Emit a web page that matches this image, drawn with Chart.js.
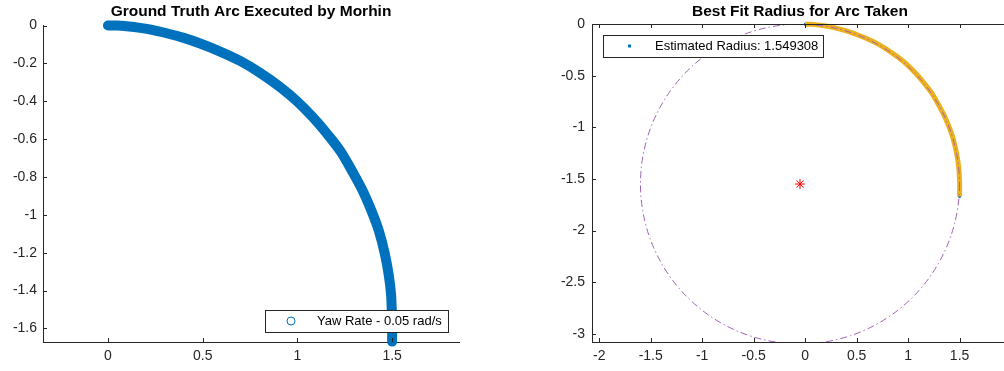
<!DOCTYPE html>
<html><head><meta charset="utf-8">
<script src="https://cdn.jsdelivr.net/npm/chart.js@4/dist/chart.umd.min.js"></script>
<style>
html,body{margin:0;padding:0;background:#fff;overflow:hidden;width:1004px;height:371px;}
canvas{position:absolute;top:0;}
#c1{left:0;} #c2{left:480px;}
</style></head>
<body>
<canvas id="c1" width="480" height="371"></canvas>
<canvas id="c2" width="540" height="371"></canvas>
<script>
// ---- data ----
const arcX = [0.00,0.05,0.10,0.17,0.22,0.30,0.40,0.49,0.58,0.70,0.80,0.91,1.00,1.08,1.16,1.23,1.29,1.35,1.39,1.43,1.46,1.48,1.495,1.50,1.50,1.50];
const arcY = [0.000,0.000,-0.004,-0.012,-0.020,-0.038,-0.065,-0.096,-0.132,-0.188,-0.248,-0.326,-0.402,-0.483,-0.576,-0.668,-0.771,-0.884,-0.977,-1.085,-1.200,-1.305,-1.430,-1.530,-1.600,-1.670];
const fitCenter = [-0.05, -1.549];
const fitRadius = 1.549308;
const leftXTicks = [0, 0.5, 1, 1.5];
const leftYTicks = [0, -0.2, -0.4, -0.6, -0.8, -1, -1.2, -1.4, -1.6];
const rightXTicks = [-2, -1.5, -1, -0.5, 0, 0.5, 1, 1.5];
const rightYTicks = [0, -0.5, -1, -1.5, -2, -2.5, -3];
const leftTitle = 'Ground Truth Arc Executed by Morhin';
const rightTitle = 'Best Fit Radius for Arc Taken';
const leftLegend = 'Yaw Rate - 0.05 rad/s';
const rightLegend = 'Estimated Radius: ' + fitRadius.toFixed(6);

const FONT = '"Liberation Sans", Arial, Helvetica, sans-serif';
const AX = '#262626';
const pts = arcX.map((x,i)=>({x:x, y:arcY[i]}));

function axisScale(min,max,ticks,fit,pad){
  return {
    type:'linear', min:min, max:max,
    afterBuildTicks:(s)=>{ s.ticks = ticks.map(v=>({value:v})); },
    afterFit:fit,
    grid:{display:false, drawTicks:false},
    border:{display:true, color:AX, width:1},
    ticks:{color:AX, font:{family:FONT, size:14}, padding:pad, autoSkip:false, maxRotation:0,
      callback:(v)=>String(Math.round(v*10)/10)}
  };
}

function decorPlugin(opts){
  return {
    id:'decor'+opts.id,
    afterDraw(chart){
      const ctx = chart.ctx, a = chart.chartArea, sx = chart.scales.x, sy = chart.scales.y;
      ctx.save();
      ctx.strokeStyle = AX; ctx.lineWidth = 1;
      if (opts.box){
        ctx.beginPath();
        ctx.moveTo(a.left, a.top+0.5); ctx.lineTo(a.right, a.top+0.5);
        ctx.moveTo(a.right-0.5, a.top); ctx.lineTo(a.right-0.5, a.bottom);
        ctx.stroke();
      }
      const L = 4;
      ctx.beginPath();
      sx.ticks.forEach(t=>{
        const px = Math.round(sx.getPixelForValue(t.value))+0.5;
        ctx.moveTo(px, a.bottom); ctx.lineTo(px, a.bottom-L);
        if (opts.box){ ctx.moveTo(px, a.top); ctx.lineTo(px, a.top+L); }
      });
      sy.ticks.forEach(t=>{
        const py = Math.round(sy.getPixelForValue(t.value))+0.5;
        ctx.moveTo(a.left, py); ctx.lineTo(a.left+L, py);
        if (opts.box){ ctx.moveTo(a.right, py); ctx.lineTo(a.right-L, py); }
      });
      ctx.stroke();
      ctx.fillStyle = '#000';
      ctx.font = 'bold 15.5px ' + FONT;
      ctx.textAlign = 'center'; ctx.textBaseline = 'middle';
      ctx.fillText(opts.title, (a.left+a.right)/2, 12);
      const g = opts.legend;
      ctx.fillStyle = '#fff';
      ctx.fillRect(g.x, g.y, g.w, g.h);
      ctx.strokeStyle = AX; ctx.lineWidth = 1;
      ctx.strokeRect(g.x+0.5, g.y+0.5, g.w, g.h);
      const my = g.y + g.h/2;
      if (g.marker === 'circle'){
        ctx.strokeStyle = '#0072BD'; ctx.lineWidth = 1;
        ctx.beginPath(); ctx.arc(g.x+26, my, 4, 0, Math.PI*2); ctx.stroke();
      } else {
        ctx.fillStyle = '#0072BD';
        ctx.fillRect(g.x+25, my-1.5, 3, 3);
      }
      ctx.fillStyle = '#000';
      ctx.font = '13px ' + FONT;
      ctx.textAlign = 'left';
      ctx.fillText(g.text, g.x + g.tx, my+0.5);
      ctx.restore();
    }
  };
}

const circlePlugin = {
  id:'fitCircle',
  afterDatasetsDraw(chart){
    const ctx = chart.ctx, a = chart.chartArea, sx = chart.scales.x, sy = chart.scales.y;
    const cx = sx.getPixelForValue(fitCenter[0]), cy = sy.getPixelForValue(fitCenter[1]);
    const rx = Math.abs(sx.getPixelForValue(fitCenter[0]+fitRadius) - cx);
    const ry = Math.abs(sy.getPixelForValue(fitCenter[1]+fitRadius) - cy);
    ctx.save();
    ctx.beginPath(); ctx.rect(a.left, a.top, a.right-a.left, a.bottom-a.top); ctx.clip();
    ctx.strokeStyle = '#9E63B5'; ctx.lineWidth = 1;
    ctx.setLineDash([7,3,1.5,3]);
    ctx.beginPath(); ctx.ellipse(cx, cy, rx, ry, 0, 0, Math.PI*2); ctx.stroke();
    ctx.restore();
  }
};

// ---- left chart ----
new Chart(document.getElementById('c1'), {
  type:'scatter',
  data:{datasets:[{
    data:pts, showLine:true, borderColor:'#0072BD', borderWidth:10,
    borderCapStyle:'round', borderJoinStyle:'round', cubicInterpolationMode:'monotone',
    pointRadius:3.5, pointBorderWidth:1, pointBorderColor:'#0072BD',
    pointBackgroundColor:'rgba(0,0,0,0)', clip:false
  }]},
  options:{
    responsive:false, animation:false, devicePixelRatio:1,
    layout:{padding:{top:25, right:21, bottom:0, left:0}},
    plugins:{legend:{display:false}, tooltip:{enabled:false}},
    scales:{
      x:axisScale(-0.343, 1.853, leftXTicks, s=>{s.height=29;}, 6),
      y:axisScale(-1.672, 0.003, leftYTicks, s=>{s.width=43;}, 6)
    }
  },
  plugins:[decorPlugin({id:1, box:false, title:leftTitle,
    legend:{x:265, y:310, w:183, h:22, marker:'circle', text:leftLegend, tx:52}})]
});

// ---- right chart ----
new Chart(document.getElementById('c2'), {
  type:'scatter',
  data:{datasets:[
    {data:[{x:fitCenter[0], y:fitCenter[1]}], pointStyle:'star', pointRadius:5,
     pointBorderColor:'#FF0000', pointBorderWidth:1, pointBackgroundColor:'#FF0000', clip:false},
    {data:pts, showLine:true, borderColor:'#EDB120', borderWidth:5, cubicInterpolationMode:'monotone',
     borderCapStyle:'butt', borderJoinStyle:'round', pointRadius:0, clip:false},
    {data:pts, showLine:false, pointRadius:1.5, pointBorderWidth:0,
     pointBackgroundColor:'#0072BD', clip:false}
  ]},
  options:{
    responsive:false, animation:false, devicePixelRatio:1,
    layout:{padding:{top:24, right:12, bottom:0, left:0}},
    plugins:{legend:{display:false}, tooltip:{enabled:false}},
    scales:{
      x:axisScale(-2.07, 1.97, rightXTicks, s=>{s.height=29;}, 6),
      y:axisScale(-3.08, 0.002, rightYTicks, s=>{s.width=112;}, 7)
    }
  },
  plugins:[circlePlugin, decorPlugin({id:2, box:true, title:rightTitle,
    legend:{x:123, y:35, w:220, h:22, marker:'square', text:rightLegend, tx:52}})]
});
</script>
</body></html>
